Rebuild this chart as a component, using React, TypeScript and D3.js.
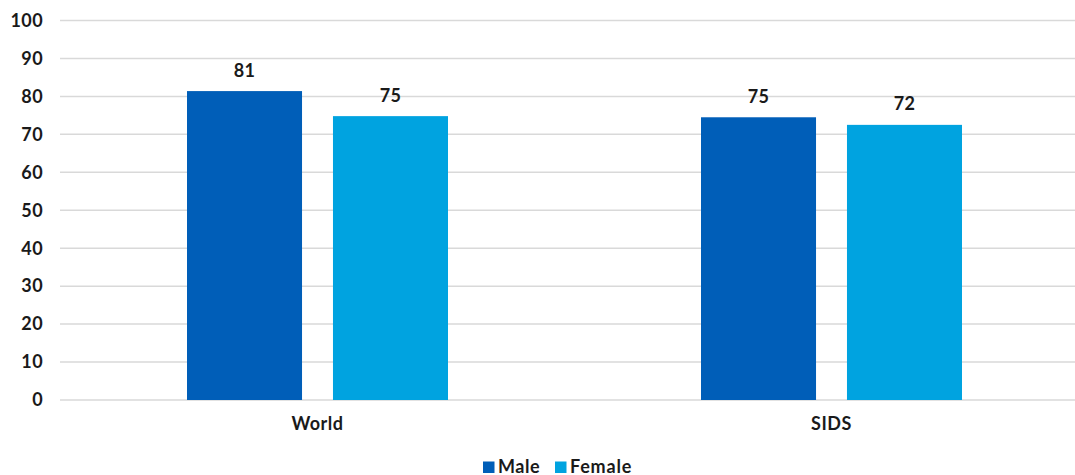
import React from "react";
import * as d3 from "d3";

const categories = ["World", "SIDS"];
const seriesNames = ["Male", "Female"];
const maleValues = [81.4, 74.5];
const femaleValues = [74.8, 72.5];
const dataLabels = [["81", "75"], ["75", "72"]];
const yTicks = [0, 10, 20, 30, 40, 50, 60, 70, 80, 90, 100];
const colors = ["#005EB8", "#00A3E0"];

const W = 1075;
const H = 475;
const FONT = "Lato, 'Open Sans', sans-serif";

export default function App() {
  const y = d3.scaleLinear().domain([0, 100]).range([400, 20.5]);
  const x0 = d3.scaleBand<string>().domain(categories).range([60.5, 1088.5]);
  const groupW = 261;
  const x1 = d3.scaleBand<string>().domain(seriesNames).range([0, groupW]).paddingInner(0.212).paddingOuter(0);
  const series = [maleValues, femaleValues];

  return (
    <svg width={W} height={H} style={{ position: "absolute", left: 0, top: 0, background: "#fff" }} fontFamily={FONT}>
      {yTicks.map((t) => (
        <g key={t}>
          <line x1={60} x2={1075} y1={y(t)} y2={y(t)} stroke="#d9d9d9" strokeWidth={1.5} />
          <text x={43} y={y(t) + 6.3} textAnchor="end" fontSize={18} fontWeight={700} fill="#1a1a1a" letterSpacing={0.4}>
            {t}
          </text>
        </g>
      ))}
      {categories.map((c, ci) => {
        const gx = (x0(c) as number) + x0.bandwidth() / 2 - groupW / 2;
        return (
          <g key={c}>
            {seriesNames.map((s, si) => {
              const v = series[si][ci];
              const bx = gx + (x1(s) as number);
              return (
                <g key={s}>
                  <rect x={bx} y={y(v)} width={x1.bandwidth()} height={y(0) - y(v)} fill={colors[si]} />
                  <text x={bx + x1.bandwidth() / 2} y={y(v) - 14.5} textAnchor="middle" fontSize={18} fontWeight={700} fill="#1a1a1a" letterSpacing={0.4}>
                    {dataLabels[ci][si]}
                  </text>
                </g>
              );
            })}
            <text x={(x0(c) as number) + x0.bandwidth() / 2} y={430} textAnchor="middle" fontSize={18} fontWeight={700} fill="#1a1a1a" letterSpacing={0.5}>
              {c}
            </text>
          </g>
        );
      })}
      <g>
        <rect x={483} y={461.5} width={11.5} height={11.5} fill={colors[0]} />
        <text x={498} y={472.5} fontSize={18} fontWeight={700} fill="#1a1a1a" letterSpacing={0.5}>Male</text>
        <rect x={555} y={461.5} width={11.5} height={11.5} fill={colors[1]} />
        <text x={570} y={472.5} fontSize={18} fontWeight={700} fill="#1a1a1a" letterSpacing={0.8}>Female</text>
      </g>
    </svg>
  );
}
